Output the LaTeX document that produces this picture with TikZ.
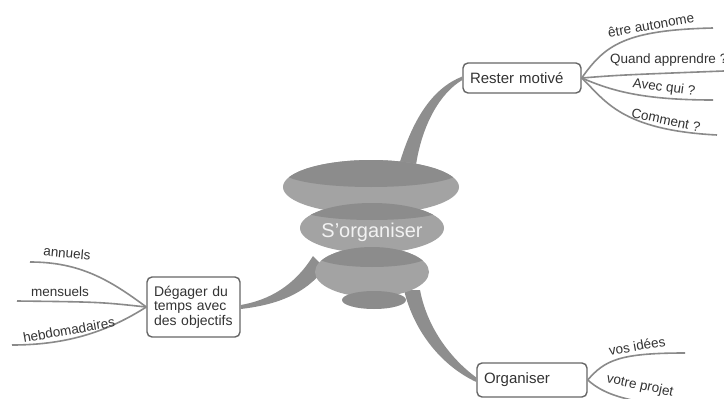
\documentclass[tikz,border=0pt]{standalone}
\usepackage{fontspec}
\setmainfont{Liberation Sans}
\definecolor{tierL}{HTML}{A3A3A3}
\definecolor{tierD}{HTML}{8C8C8C}
\definecolor{stem}{HTML}{8E8E8E}
\definecolor{boxline}{HTML}{666666}
\definecolor{leafline}{HTML}{8A8A8A}
\definecolor{txt}{HTML}{333333}
\begin{document}
\begin{tikzpicture}[x=1pt,y=-1pt,
  box/.style={draw=boxline, line width=1.4pt, rounded corners=5pt, fill=white,
    inner xsep=7pt, inner ysep=3pt, align=left, text=txt,
    font=\fontsize{15}{16}\selectfont},
  leaf/.style={draw=leafline, line width=1.6pt},
  leaftext/.style={text=txt, inner sep=0pt, font=\fontsize{13.5}{14}\selectfont},
  stemfill/.style={fill=stem}]
% canvas
\fill[white] (0,0) rectangle (724,399);
\useasboundingbox (0,0) rectangle (724,399);

% main topic boxes
\node[box, text width=104pt, minimum height=30pt] (rm) at (522,78) {Rester motivé};
\node[box, text width=79pt, minimum height=60pt,
      font=\fontsize{14}{14.5}\selectfont] (dg) at (193.5,307)
      {Dégager du\\temps avec\\des objectifs};
\node[box, text width=96pt, minimum height=34pt] (og) at (532,380) {Organiser};

% anchor points on the central funnel
\coordinate (tA) at (399,165);
\coordinate (tB) at (416,165);
\coordinate (lA) at (313,256);
\coordinate (lB) at (325,268);
\coordinate (bA) at (404,290);
\coordinate (bB) at (420,290);

% tapered stems (behind the funnel)
\fill[stemfill] (tA) .. controls (413,118) and (433,88) .. ([yshift=1.5pt]rm.west)
  -- ([yshift=-2pt]rm.west) .. controls (440,93) and (422,125) .. (tB) -- cycle;
\fill[stemfill] (lA) .. controls (295,285) and (270,300) .. ([yshift=2pt]dg.east)
  -- ([yshift=-2pt]dg.east) .. controls (275,305) and (305,295) .. (lB) -- cycle;
\fill[stemfill] (bA) .. controls (414,332) and (442,366) .. ([yshift=-2pt]og.west)
  -- ([yshift=2.5pt]og.west) .. controls (455,362) and (428,332) .. (bB) -- cycle;

% central funnel: four stacked discs
\fill[tierL] (371,187) ellipse [x radius=88, y radius=27];
\begin{scope}
  \clip (371,187) ellipse [x radius=88, y radius=27];
  \fill[tierD] (371,172) ellipse [x radius=88, y radius=15];
\end{scope}
\fill[tierL] (372,228) ellipse [x radius=72, y radius=25];
\begin{scope}
  \clip (372,228) ellipse [x radius=72, y radius=25];
  \fill[tierD] (372,209) ellipse [x radius=72, y radius=11];
\end{scope}
\fill[tierL] (372,272) ellipse [x radius=57, y radius=25];
\begin{scope}
  \clip (372,272) ellipse [x radius=57, y radius=25];
  \fill[tierD] (372,255) ellipse [x radius=57, y radius=12];
\end{scope}
\fill[tierD] (374,300) ellipse [x radius=32, y radius=9];
\node[text=white!95!black, font=\fontsize{20}{22}\selectfont] (core) at (372,232) {S'organiser};

% leaves of "Rester motivé"
\coordinate (r1) at (713,28);
\coordinate (r2) at (724,71);
\coordinate (r3) at (713,100);
\coordinate (r4) at (717,135);
\draw[leaf] (rm.east) .. controls (605,45) and (625,30) .. (r1);
\draw[leaf] (rm.east) .. controls (620,75) .. (r2);
\draw[leaf] (rm.east) .. controls (610,90) and (640,100) .. (r3);
\draw[leaf] (rm.east) .. controls (605,100) and (620,130) .. (r4);
\node[leaftext, rotate=10] (t1) at (651,25) {être autonome};
\node[leaftext, anchor=west] (t2) at (610,60) {Quand apprendre ?};
\node[leaftext, rotate=-8] (t3) at (664,88) {Avec qui ?};
\node[leaftext, rotate=-12] (t4) at (666,120) {Comment ?};

% leaves of "Dégager du temps avec des objectifs"
\coordinate (d1) at (30,262);
\coordinate (d2) at (17,301);
\coordinate (d3) at (12,345);
\draw[leaf] (dg.west) .. controls (110,280) and (80,262) .. (d1);
\draw[leaf] (dg.west) .. controls (100,302) .. (d2);
\draw[leaf] (dg.west) .. controls (110,330) and (70,345) .. (d3);
\node[leaftext, rotate=-5] (u1) at (67,253) {annuels};
\node[leaftext] (u2) at (60,292) {mensuels};
\node[leaftext, rotate=10] (u3) at (69,330) {hebdomadaires};

% leaves of "Organiser"
\coordinate (o1) at (685,353);
\coordinate (o2) at (700,410);
\draw[leaf] (og.east) .. controls (605,360) and (620,353) .. (o1);
\draw[leaf] (og.east) .. controls (605,395) and (625,402) .. (o2);
\node[leaftext, rotate=10] (v1) at (637,346) {vos idées};
\node[leaftext, rotate=-12] (v2) at (640,386) {votre projet};
\end{tikzpicture}
\end{document}
